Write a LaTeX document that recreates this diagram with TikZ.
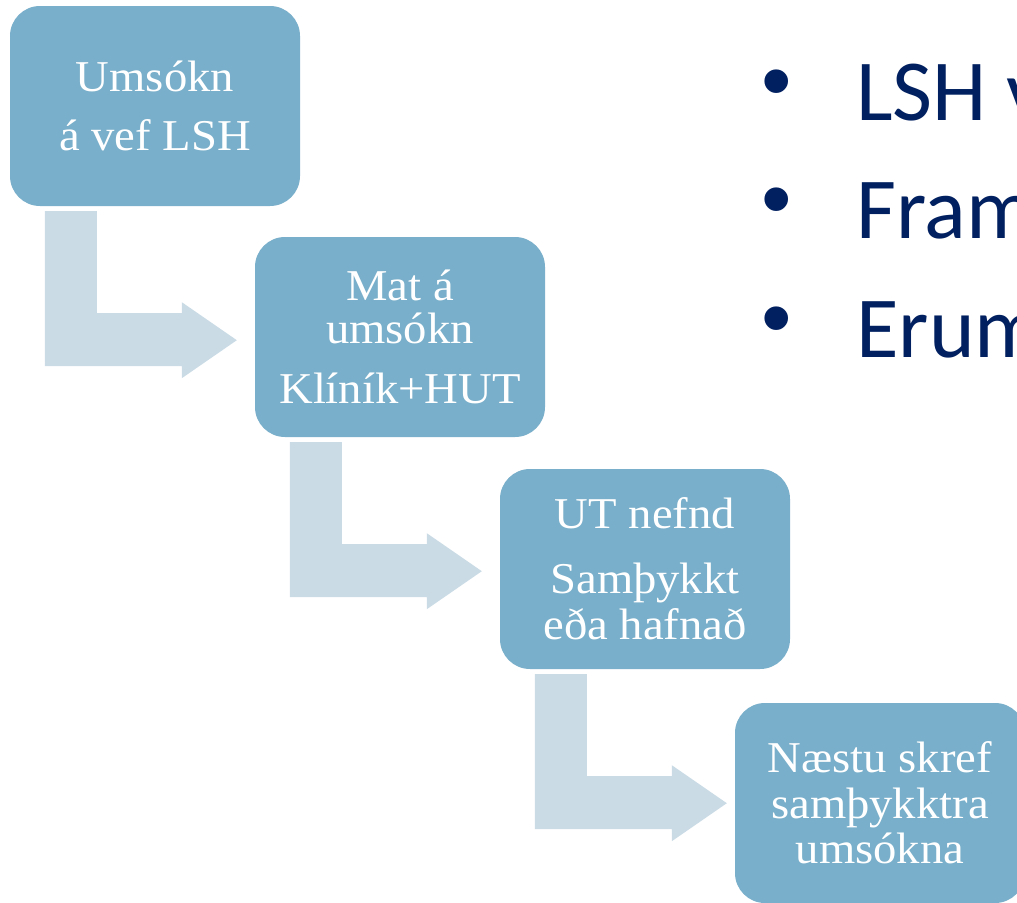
\documentclass[tikz,border=0pt]{standalone}
\usepackage{fontspec}
\setmainfont{Liberation Serif}[FakeStretch=1.06]
\newfontfamily\bulletfont{Carlito}
\newfontfamily\dotfont{Liberation Sans}
\definecolor{boxfill}{HTML}{79AFCA}
\definecolor{arrowfill}{HTML}{CADBE6}
\definecolor{navy}{HTML}{002060}
\newcommand\bentarrow[1]{%
  \begin{scope}[shift={(#1.south west)}]
    \fill[arrowfill] (35,5) -- (87,5) -- (87,107) -- (172,107) -- (172,96)
      -- (227,134) -- (172,172) -- (172,160) -- (35,160) -- cycle;
  \end{scope}}
\begin{document}
\begin{tikzpicture}[x=1pt,y=-1pt,
  stepbox/.style={fill=boxfill, rounded corners=30pt, minimum width=290pt,
    minimum height=200pt, inner sep=0pt, text=white, align=center,
    font=\fontsize{44}{45}\selectfont},
  bullettext/.style={anchor=base west, inner sep=0pt, text=navy,
    font=\bulletfont\fontsize{87}{90}\selectfont},
  bulletdot/.style={inner sep=0pt, text=navy,
    font=\dotfont\fontsize{87}{90}\selectfont}]
\useasboundingbox (0,0) rectangle (1017,902);
\fill[white] (0,0) rectangle (1017,902);
\clip (0,0) rectangle (1017,902);
\node[stepbox] (b1) at (155,106) {Umsókn\\[14pt]á vef LSH};
\node[stepbox] (b2) at (400,337) {Mat á\\[-2pt]umsókn\\[15pt]Klíník+HUT};
\node[stepbox] (b3) at (645,569) {UT nefnd\\[20pt]Samþykkt\\[1pt]eða hafnað};
\node[stepbox] (b4) at (880,803) {Næstu skref\\[1pt]samþykktra\\umsókna};
\bentarrow{b1}
\bentarrow{b2}
\bentarrow{b3}
\node[bulletdot] (d1) at (777,90) {•};
\node[bulletdot] (d2) at (777,208) {•};
\node[bulletdot] (d3) at (777,327) {•};
\node[bullettext] (t1) at (856,120) {LSH v};
\node[bullettext] (t2) at (856,238) {Fram};
\node[bullettext] (t3) at (856,357) {Erum};
\end{tikzpicture}
\end{document}
